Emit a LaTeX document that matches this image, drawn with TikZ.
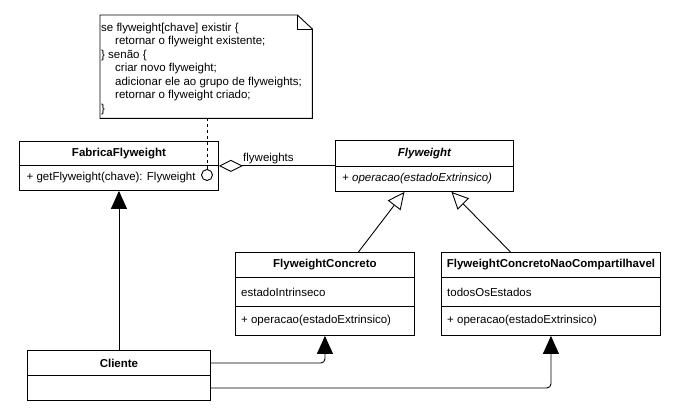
\documentclass[tikz,border=0pt]{standalone}
\usepackage{fontspec}
\setmainfont{Liberation Sans}
\usetikzlibrary{arrows.meta}
\begin{document}
\begin{tikzpicture}[x=1pt,y=-1pt,
  font=\fontsize{11.5}{13.5}\selectfont,
  umlbox/.style={draw, line width=0.9pt, inner sep=0pt, anchor=north west, fill=white},
  hdr/.style={umlbox, font=\fontsize{11.5}{13.5}\selectfont\bfseries},
  member/.style={anchor=west, inner sep=0pt},
  conn/.style={line width=0.9pt},
  solidtip/.style={-{Triangle[width=16pt,length=18pt]}},
  inherit/.style={-{Triangle[open,width=16pt,length=17pt,fill=white]}},
]
\useasboundingbox (0,0) rectangle (677,415);
\fill[white] (0,0) rectangle (677,415);

% note
\node[inner sep=0pt, minimum width=212pt, minimum height=103pt, anchor=north west] (note) at (100,15) {};
\draw[line width=0.9pt, fill=white] (note.north west) -- ([xshift=-15pt]note.north east) -- ([yshift=-14pt]note.north east) -- (note.south east) -- (note.south west) -- cycle;
\draw[line width=0.9pt] ([xshift=-15pt]note.north east) -- ([xshift=-15pt,yshift=-14pt]note.north east) -- ([yshift=-14pt]note.north east);
\node[anchor=north west, inner sep=0pt, align=left] (notetext) at (101,22.5) {se flyweight[chave] existir \{\\
\hspace*{14pt}retornar o flyweight existente;\\
\} senão \{\\
\hspace*{14pt}criar novo flyweight;\\
\hspace*{14pt}adicionar ele ao grupo de flyweights;\\
\hspace*{14pt}retornar o flyweight criado;\\
\}};

% FabricaFlyweight
\node[hdr, minimum width=199pt, minimum height=24pt] (fabH) at (19,141) {FabricaFlyweight};
\node[umlbox, minimum width=199pt, minimum height=25pt] (fabB) at (19,165) {};
\node[member] (fabT) at ([xshift=7.5pt]fabB.west) {+ getFlyweight(chave): Flyweight};
\node[draw, circle, line width=0.9pt, minimum size=11pt, inner sep=0pt] (port) at (207,175) {};

% Flyweight
\node[hdr, font=\fontsize{11.5}{13.5}\selectfont\bfseries\itshape, minimum width=178pt, minimum height=26pt] (flyH) at (335,140) {Flyweight};
\node[umlbox, minimum width=178pt, minimum height=25pt] (flyB) at (335,166) {};
\node[member, font=\fontsize{11.5}{13.5}\selectfont\itshape] (flyT) at ([xshift=7pt]flyB.west) {+ operacao(estadoExtrinsico)};

% FlyweightConcreto
\node[hdr, minimum width=179pt, minimum height=25pt] (fcH) at (235,252) {FlyweightConcreto};
\node[umlbox, minimum width=179pt, minimum height=29pt] (fcA) at (235,277) {};
\node[umlbox, minimum width=179pt, minimum height=29pt] (fcO) at (235,306) {};
\node[member] (fcAT) at ([xshift=6pt]fcA.west) {estadoIntrinseco};
\node[member] (fcOT) at ([xshift=6pt]fcO.west) {+ operacao(estadoExtrinsico)};

% FlyweightConcretoNaoCompartilhavel
\node[hdr, minimum width=219pt, minimum height=25pt] (ncH) at (441,252) {FlyweightConcretoNaoCompartilhavel};
\node[umlbox, minimum width=219pt, minimum height=29pt] (ncA) at (441,277) {};
\node[umlbox, minimum width=219pt, minimum height=29pt] (ncO) at (441,306) {};
\node[member] (ncAT) at ([xshift=6pt]ncA.west) {todosOsEstados};
\node[member] (ncOT) at ([xshift=6pt]ncO.west) {+ operacao(estadoExtrinsico)};

% Cliente
\node[hdr, minimum width=183pt, minimum height=25pt] (cliH) at (27,350) {Cliente};
\node[umlbox, minimum width=183pt, minimum height=25pt] (cliB) at (27,375) {};

% connectors
\draw[line width=0.9pt, dash pattern=on 3pt off 3pt] (note.south -| port.north) -- (port.north);
\draw[conn, {Diamond[open,length=24pt,width=12pt,fill=white]}-] (fabH.south east) -- (fabH.south east -| flyH.south west);
\node[anchor=west, inner sep=0pt] (flylabel) at (243,159) {flyweights};
\draw[conn, solidtip] (cliH.north) -- (cliH.north |- fabB.south);
\draw[conn, solidtip, rounded corners=4pt] (cliH.east) -| (fcO.south);
\draw[conn, solidtip, rounded corners=4pt] (cliB.east) -| (ncO.south);
\draw[conn, inherit] ([xshift=33.5pt]fcH.north) -- ([xshift=-20pt]flyB.south);
\draw[conn, inherit] ([xshift=-40.5pt]ncH.north) -- ([xshift=27pt]flyB.south);
\end{tikzpicture}
\end{document}
